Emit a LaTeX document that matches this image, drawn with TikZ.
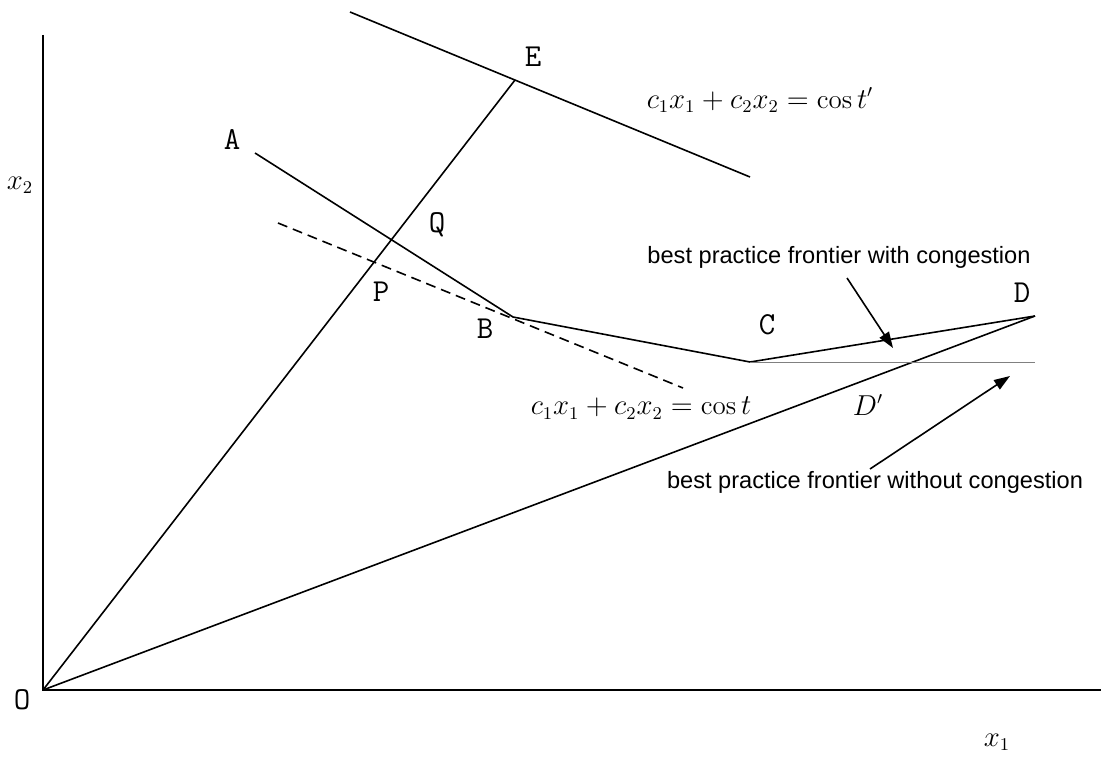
\documentclass[tikz,border=0pt]{standalone}
\usepackage{fontspec}
\usepackage{tikz}
\usetikzlibrary{arrows.meta}
\newfontfamily\notefont{Liberation Sans}

\begin{document}
\begin{tikzpicture}[x=0.5pt,y=-0.5pt,
	ptlabel/.style={font=\ttfamily\fontsize{16}{18}\selectfont,inner sep=0pt},
	notelabel/.style={font=\notefont\fontsize{11.8}{14}\selectfont,inner sep=0pt},
	eqlabel/.style={font=\fontsize{13.5}{16}\selectfont,inner sep=0pt},
	frontier/.style={line width=0.8pt},
	pointer/.style={line width=0.8pt,-{Triangle[length=8pt,width=5.5pt]}}]
			\useasboundingbox (0,0) rectangle (1101,759);
			
			% points of the picture
			\coordinate (O) at (43,690);
			\coordinate (E) at (515,80);
			\coordinate (A) at (255,153);
			\coordinate (B) at (513,317);
			\coordinate (C) at (750,362);
			\coordinate (D) at (1035,316);
			\coordinate (Dh) at (1035,362);
			\coordinate (ytop) at (43,35);
			\coordinate (xend) at (1101,690);
			\coordinate (isoA) at (350,12);
			\coordinate (isoB) at (750,177);
			\coordinate (dashA) at (278,223);
			\coordinate (dashB) at (683,388);
			
			% axes
			\draw[line width=1pt] (ytop) -- (O) -- (xend);
			\node[ptlabel] (lO) at (22,700) {O};
			\node[eqlabel] (lx2) at (20,185) {$x_2$};
			\node[eqlabel] (lx1) at (997,742) {$x_1$};
			
			% rays
			\draw[frontier] (O) -- (E);
			\draw[frontier] (O) -- (D);
			
			% cost lines
			\draw[frontier] (isoA) -- (isoB);
			\draw[frontier,dash pattern=on 5pt off 3pt] (dashA) -- (dashB);
			\node[eqlabel] (costtop) at (760,100) {$c_1x_1+c_2x_2=\cos t'$};
			\node[eqlabel] (costlow) at (641,408) {$c_1x_1+c_2x_2=\cos t$};
			
			% frontiers
			\draw[frontier] (A) -- (B) -- (C) -- (D);
			\draw[line width=0.5pt,gray] (C) -- (Dh);
			
			\node[ptlabel] (lA) at (232,140) {A};
			\node[ptlabel] (lB) at (485,329) {B};
			\node[ptlabel] (lC) at (767,325) {C};
			\node[ptlabel] (lD) at (1022,293) {D};
			\node[ptlabel] (lE) at (533,57) {E};
			\node[ptlabel] (lP) at (381,292) {P};
			\node[ptlabel] (lQ) at (437,225) {Q};
			\node[eqlabel] (lDp) at (868,405) {$D'$};
			
			% notes
			\node[notelabel] (withc) at (839,257) {best practice frontier with congestion};
			\node[notelabel] (withoutc) at (875,482) {best practice frontier without congestion};
			\coordinate (p1s) at (847,278);
			\coordinate (p1e) at (893,348);
			\coordinate (p2s) at (870,469);
			\coordinate (p2e) at (1010,376);
			\draw[pointer] (p1s) -- (p1e);
			\draw[pointer] (p2s) -- (p2e);
			
		\end{tikzpicture}
\end{document}
